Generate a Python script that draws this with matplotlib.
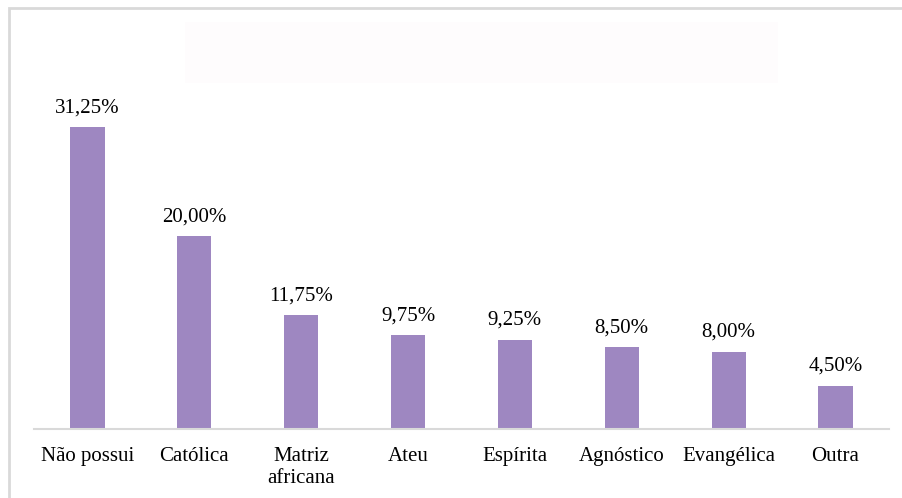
import matplotlib.pyplot as plt
from matplotlib.patches import Rectangle

# Dados do gráfico
categorias = ['Não possui', 'Católica', 'Matriz\nafricana', 'Ateu',
              'Espírita', 'Agnóstico', 'Evangélica', 'Outra']
percentuais = [31.25, 20.00, 11.75, 9.75, 9.25, 8.50, 8.00, 4.50]
rotulos = ['31,25%', '20,00%', '11,75%', '9,75%', '9,25%', '8,50%', '8,00%', '4,50%']

plt.rcParams['font.family'] = ['Liberation Serif', 'DejaVu Serif']

W, H = 903, 498
fig = plt.figure(figsize=(W / 100, H / 100), dpi=100)

# moldura e área de título vazia
fig.patches.append(Rectangle((9 / W, -0.05), 1.2, 1.05 - 8 / H, transform=fig.transFigure,
                             fill=False, edgecolor='#d9d9d9', linewidth=2, figure=fig))
fig.patches.append(Rectangle((185 / W, 1 - 83 / H), (778 - 185) / W, (83 - 22) / H,
                             transform=fig.transFigure, facecolor='#fefcfd',
                             edgecolor='none', figure=fig))

# eixo: x de 34 a 889 px, base em y=429, 9.66 px por ponto percentual
ymax = 35
top = 429 - ymax * 9.66
ax = fig.add_axes([34 / W, 1 - 429 / H, (889 - 34) / W, (429 - top) / H])
ax.patch.set_alpha(0)

x = range(len(categorias))
ax.bar(x, percentuais, width=0.32, color='#9e87c1')

for xi, v, r in zip(x, percentuais, rotulos):
    ax.annotate(r, (xi, v), xytext=(0, 7), textcoords='offset points',
                ha='center', va='bottom', fontsize=15)

ax.set_xlim(-0.5, len(categorias) - 0.5)
ax.set_ylim(0, ymax)
ax.set_xticks(list(x))
ax.set_xticklabels(categorias, fontsize=15, linespacing=1.2)
ax.tick_params(axis='x', length=0, pad=13)
ax.set_yticks([])
for s in ['top', 'right', 'left']:
    ax.spines[s].set_visible(False)
ax.spines['bottom'].set_color('#d9d9d9')
ax.spines['bottom'].set_linewidth(1.5)

plt.savefig('out.png', dpi=100)
